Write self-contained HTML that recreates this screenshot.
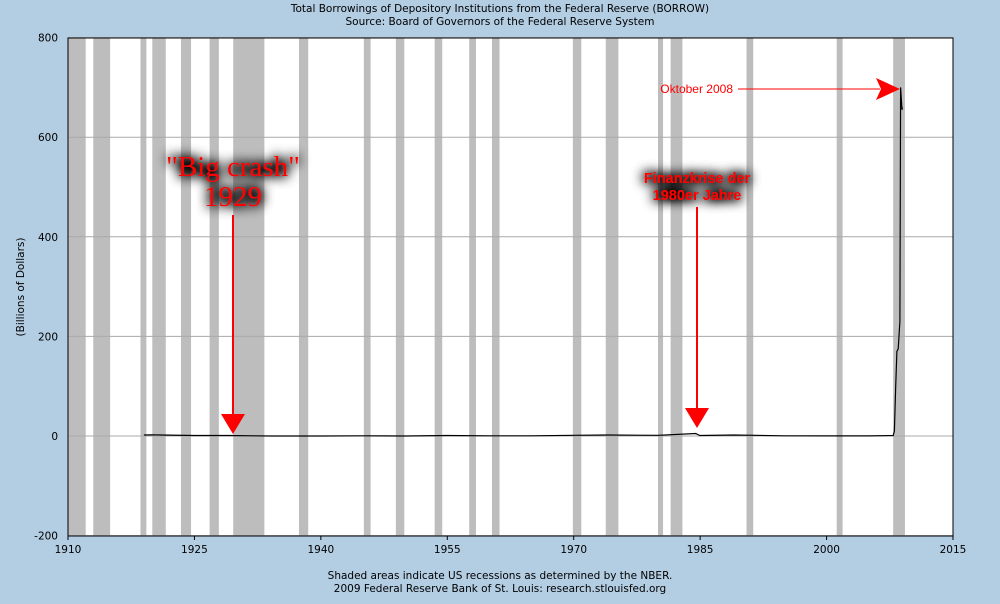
<!DOCTYPE html>
<html><head><meta charset="utf-8"><style>
body{margin:0;width:1000px;height:600px;background:#b3cde3;overflow:hidden;font-family:"DejaVu Sans",sans-serif}
svg text{font-family:"DejaVu Sans",sans-serif}
</style></head><body>
<svg id="chart" width="1000" height="600" viewBox="0 0 1000 600">
<defs><filter id="glow" x="-30%" y="-60%" width="160%" height="220%"><feGaussianBlur in="SourceAlpha" stdDeviation="6"/><feComponentTransfer><feFuncA type="linear" slope="3"/></feComponentTransfer><feMerge><feMergeNode/><feMergeNode in="SourceGraphic"/></feMerge></filter></defs>
<rect x="68" y="38" width="885" height="498" fill="#fff"/>
<g id="rec"></g><g id="grid"></g>
<text x="500" y="12" font-size="10.5" text-anchor="middle" fill="#000">Total Borrowings of Depository Institutions from the Federal Reserve (BORROW)</text>
<text x="500" y="25" font-size="10.5" text-anchor="middle" fill="#000">Source: Board of Governors of the Federal Reserve System</text>
<text x="24" y="287" font-size="10.5" text-anchor="middle" transform="rotate(-90 24 287)">(Billions of Dollars)</text>
<text x="500" y="579" font-size="10.5" text-anchor="middle">Shaded areas indicate US recessions as determined by the NBER.</text>
<text x="500" y="592" font-size="10.5" text-anchor="middle">2009 Federal Reserve Bank of St. Louis: research.stlouisfed.org</text>
<g id="axes"></g>
<path id="line" fill="none" stroke="#000" stroke-width="1.2"/>
<g filter="url(#glow)">
<text x="233" y="176" font-size="29" fill="#f00" text-anchor="middle" style="font-family:'Liberation Serif',serif">"Big crash"</text>
<text x="233" y="206" font-size="29" fill="#f00" text-anchor="middle" style="font-family:'Liberation Serif',serif">1929</text></g>
<g filter="url(#glow)">
<text x="697" y="183" font-size="14.5" font-weight="bold" fill="#f00" text-anchor="middle" style="font-family:'Liberation Sans',sans-serif">Finanzkrise der</text>
<text x="697" y="200" font-size="14.5" font-weight="bold" fill="#f00" text-anchor="middle" style="font-family:'Liberation Sans',sans-serif">1980er Jahre</text></g>
<g fill="#f00" stroke="#f00">
<line x1="233" y1="215" x2="233" y2="418" stroke-width="2"/><polygon points="221,414 245,414 233,434" stroke="none"/>
<line x1="697" y1="207" x2="697" y2="412" stroke-width="2"/><polygon points="685,408 709,408 697,428" stroke="none"/>
<line x1="738" y1="89" x2="880" y2="89" stroke-width="1"/><polygon points="876,78 900,89 876,100 881,89" stroke="none"/>
</g>
<text x="733" y="93" font-size="12" fill="#f00" text-anchor="end" style="font-family:'Liberation Sans',sans-serif">Oktober 2008</text>
</svg>
<script>
const recessions=[[1910,1912.1],[1913,1915],[1918.6,1919.3],[1920,1921.6],[1923.4,1924.6],[1926.8,1927.9],[1929.6,1933.3],[1937.4,1938.5],[1945.1,1945.9],[1948.9,1949.9],[1953.5,1954.4],[1957.6,1958.4],[1960.3,1961.2],[1969.9,1970.9],[1973.8,1975.3],[1980,1980.6],[1981.5,1982.9],[1990.5,1991.3],[2001.2,2001.9],[2007.9,2009.3]];
const years=[1919,1920,1921,1925,1929,1932,1934,1940,1945,1950,1955,1960,1965,1970,1974,1980,1984.5,1984.7,1985,1989,1995,2000,2005,2007.9,2008.05,2008.2,2008.35,2008.5,2008.7,2008.78,2008.82,2008.95,2009.0];
const values=[2,2.5,2,1,1,0.5,0,0,0.5,0,1,0.5,0.5,1.5,2,1.5,5,3,1,2,0.5,0.3,0.2,1,10,100,170,175,230,700,690,655,660];
const yTicks=[-200,0,200,400,600,800];
const xTicks=[1910,1925,1940,1955,1970,1985,2000,2015];
const X=y=>68+(y-1910)/105*885, Y=v=>436-v*498/1000;
const NS="http://www.w3.org/2000/svg";
function mk(p,t,a){const e=document.createElementNS(NS,t);for(const k in a)e.setAttribute(k,a[k]);p.appendChild(e);return e;}
const rec=document.getElementById('rec');
recessions.forEach(r=>{const e=mk(rec,'rect',{x:X(r[0]),y:38,width:X(r[1])-X(r[0]),height:498,fill:'#bdbdbd'});

});
const g=document.getElementById('grid'),ax=document.getElementById('axes');
yTicks.forEach(v=>{const l=mk(g,'line',{x1:68,x2:953,y1:Y(v),y2:Y(v),stroke:'#aaa','stroke-width':1});


const t=mk(ax,'text',{x:58,y:Y(v)+4,'font-size':10.5,'text-anchor':'end'});t.textContent=v;

});
xTicks.forEach(y=>{const t=mk(ax,'text',{x:X(y),y:553,'font-size':10.5,'text-anchor':'middle'});t.textContent=y;


mk(ax,'line',{x1:X(y),x2:X(y),y1:536,y2:540,stroke:'#000'});});
mk(ax,'rect',{x:68,y:38,width:885,height:498,fill:'none',stroke:'#000','stroke-width':1});
document.getElementById('line').setAttribute('d',years.map((y,i)=>(i?'L':'M')+X(y).toFixed(1)+','+Y(values[i]).toFixed(1)).join(''));
</script>
</body></html>
